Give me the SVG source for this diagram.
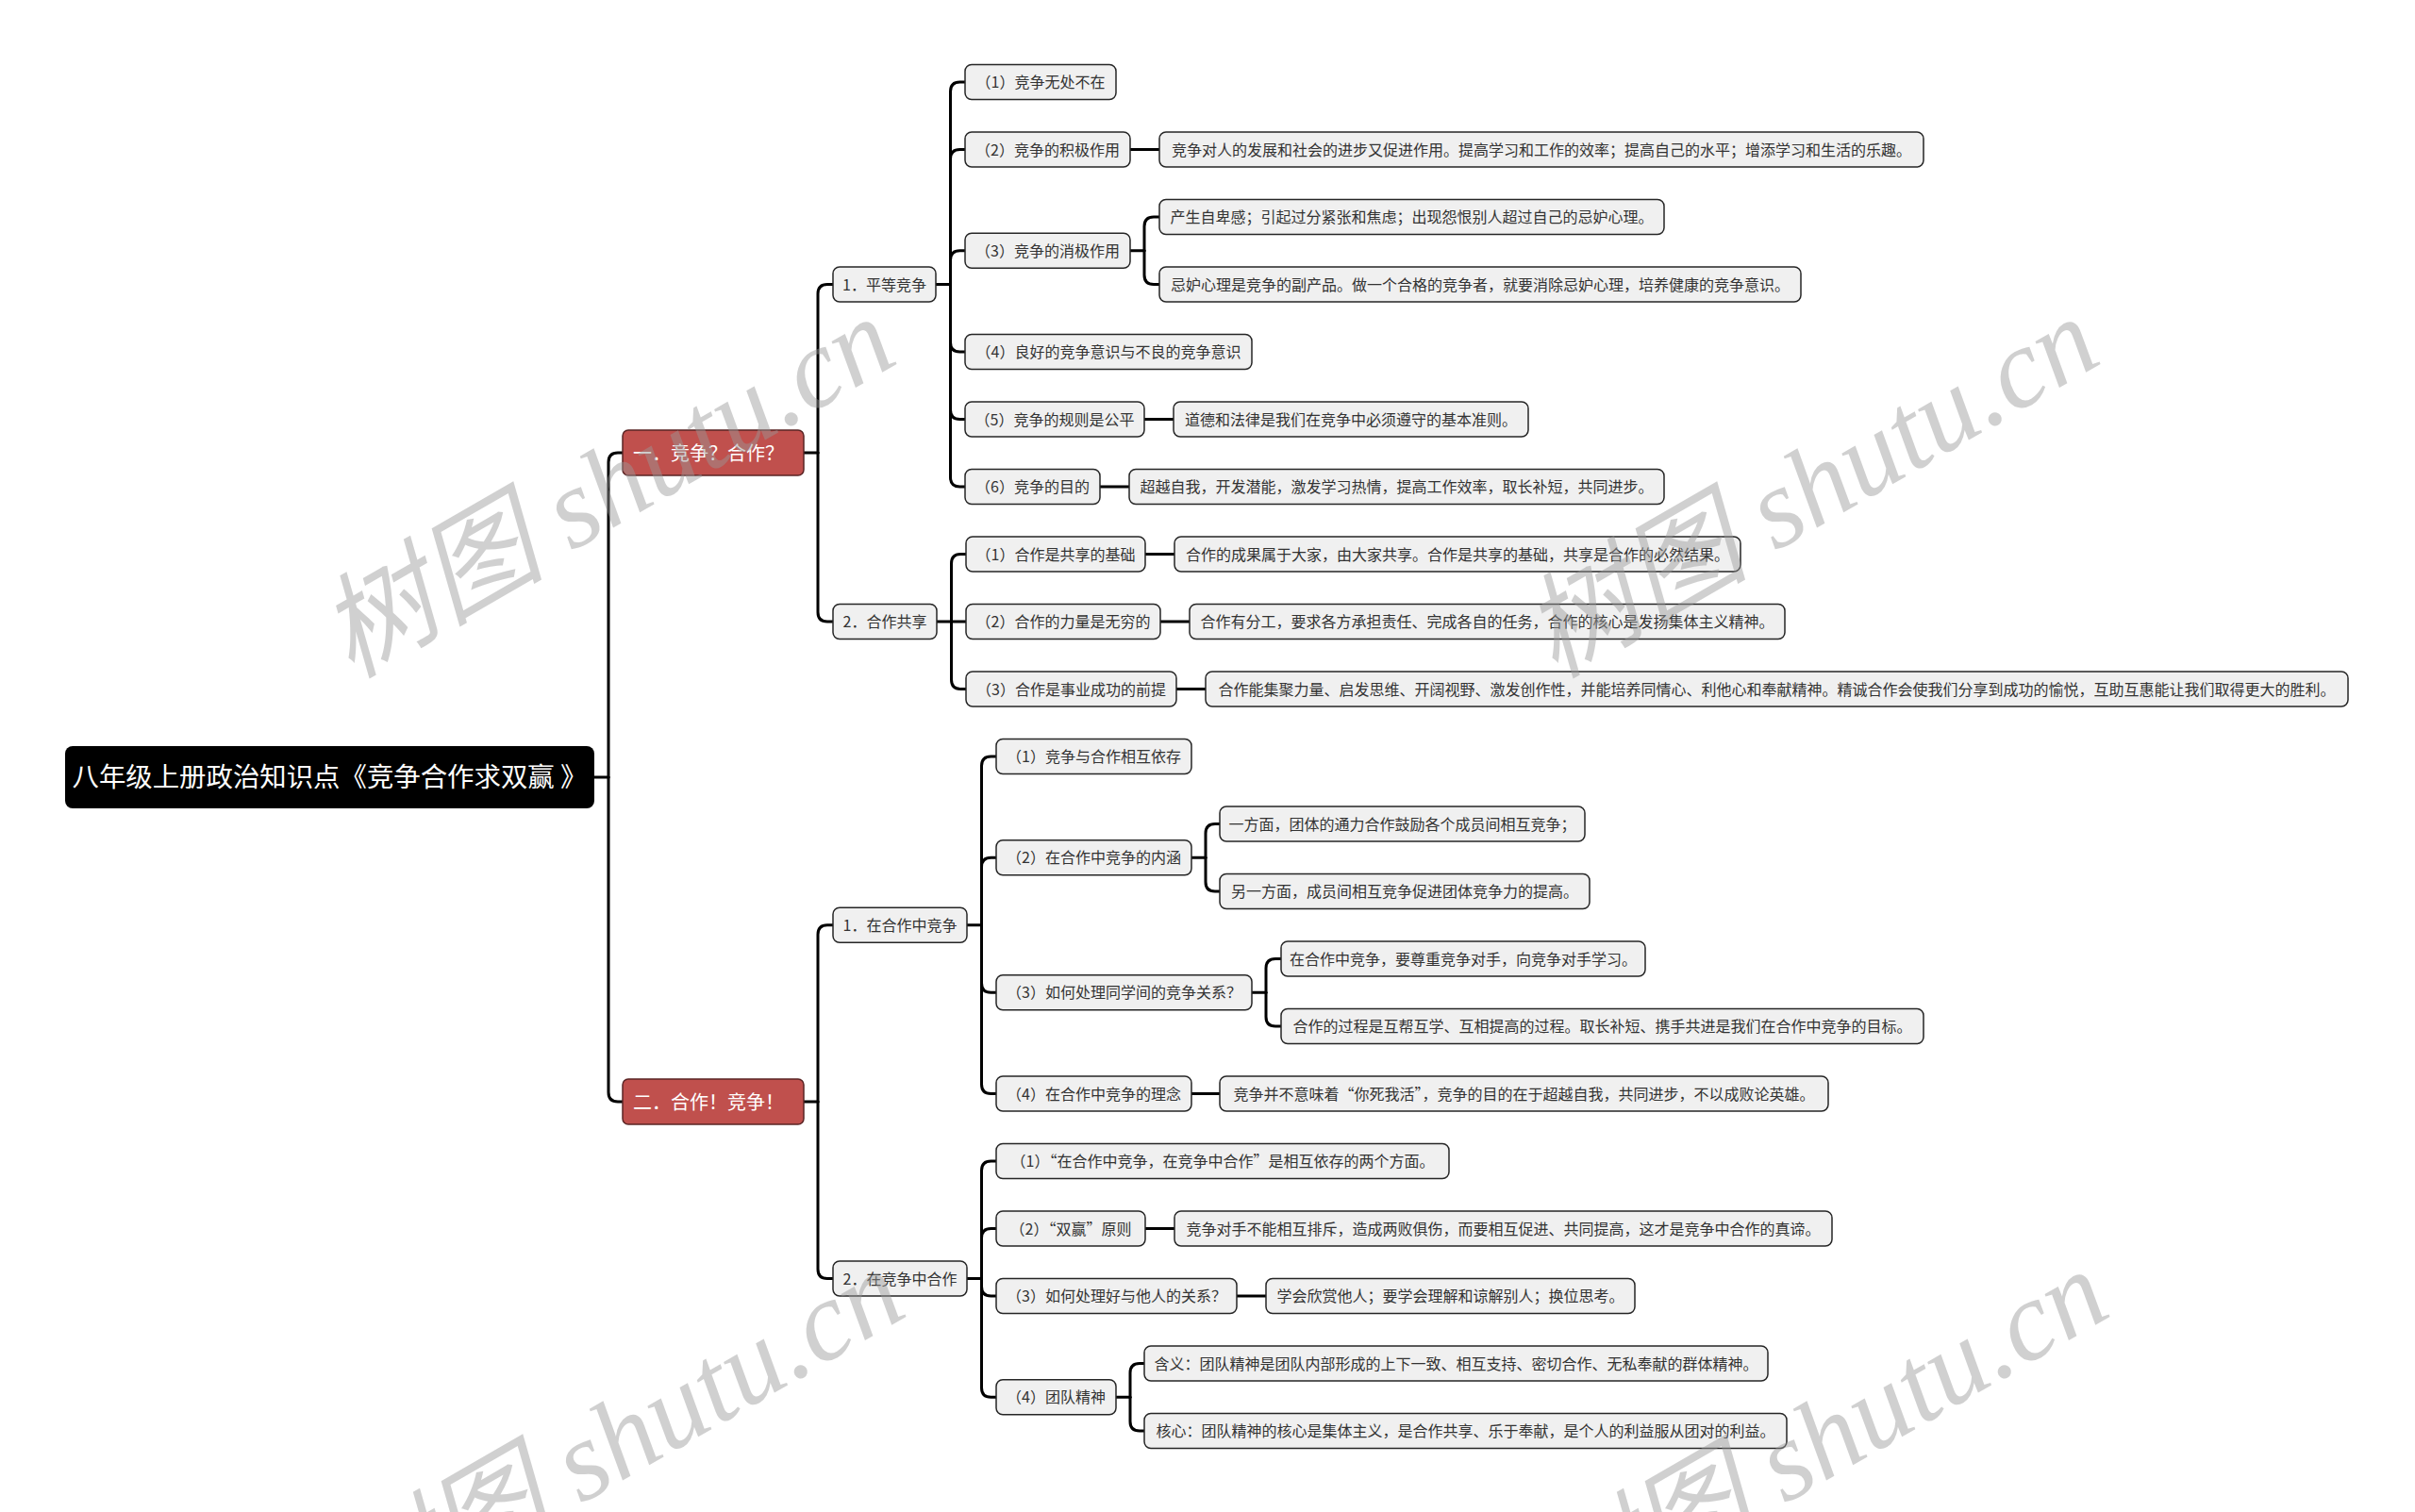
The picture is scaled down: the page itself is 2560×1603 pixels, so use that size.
<svg xmlns="http://www.w3.org/2000/svg" width="2560" height="1603" viewBox="0 0 2560 1603">
<style>
.bg{fill:#ffffff}
.n rect{fill:#f0f0f0;stroke:#262626;stroke-width:1.5}
.n text{font-family:"Noto Sans CJK SC","Noto Sans",sans-serif;font-size:16px;fill:#333333;text-anchor:middle}
.r rect{fill:#c0504d;stroke:#5a2424;stroke-width:1.5}
.r text{font-family:"Noto Sans CJK SC","Noto Sans",sans-serif;font-size:20px;fill:#ffffff}
.root rect{fill:#000000}
.root text{font-family:"Noto Sans CJK SC","Noto Sans",sans-serif;font-size:28px;fill:#ffffff;text-anchor:middle}
#connectors path{fill:none;stroke:#000000;stroke-width:3;stroke-linecap:round;stroke-linejoin:round}
.wm{font-size:120px;fill:#999999;opacity:0.45}
.wmc{font-family:"Noto Sans CJK SC",sans-serif;font-style:italic}
.wml{font-family:"Liberation Serif",serif;font-style:italic}
</style>
<rect class="bg" x="0" y="0" width="2560" height="1603"/>

<g id="connectors">
<path d="M630 824 H645"/>
<path d="M645 824 V490 Q645 480 655 480 H660"/>
<path d="M645 824 V1158 Q645 1168 655 1168 H660"/>
<path d="M852 480 H867"/>
<path d="M867 480 V311.5 Q867 301.5 877 301.5 H883"/>
<path d="M867 480 V649 Q867 659 877 659 H883"/>
<path d="M852 1168 H867"/>
<path d="M867 1168 V990.75 Q867 980.75 877 980.75 H883"/>
<path d="M867 1168 V1345.5 Q867 1355.5 877 1355.5 H883"/>
<path d="M992 301.5 H1007.5"/>
<path d="M1007.5 301.5 V97 Q1007.5 87 1017.5 87 H1023"/>
<path d="M1007.5 301.5 V168.5 Q1007.5 158.5 1017.5 158.5 H1023"/>
<path d="M1007.5 301.5 V275.75 Q1007.5 265.75 1017.5 265.75 H1023"/>
<path d="M1007.5 301.5 V363 Q1007.5 373 1017.5 373 H1023"/>
<path d="M1007.5 301.5 V434.5 Q1007.5 444.5 1017.5 444.5 H1023"/>
<path d="M1007.5 301.5 V506 Q1007.5 516 1017.5 516 H1023"/>
<path d="M993 659 H1024"/>
<path d="M1008.5 659 V597.5 Q1008.5 587.5 1018.5 587.5 H1024"/>
<path d="M1008.5 659 V720.5 Q1008.5 730.5 1018.5 730.5 H1024"/>
<path d="M1025 980.75 H1040.5"/>
<path d="M1040.5 980.75 V812 Q1040.5 802 1050.5 802 H1056"/>
<path d="M1040.5 980.75 V919.25 Q1040.5 909.25 1050.5 909.25 H1056"/>
<path d="M1040.5 980.75 V1042.25 Q1040.5 1052.25 1050.5 1052.25 H1056"/>
<path d="M1040.5 980.75 V1149.5 Q1040.5 1159.5 1050.5 1159.5 H1056"/>
<path d="M1025 1355.5 H1040.5"/>
<path d="M1040.5 1355.5 V1241 Q1040.5 1231 1050.5 1231 H1056"/>
<path d="M1040.5 1355.5 V1312.5 Q1040.5 1302.5 1050.5 1302.5 H1056"/>
<path d="M1040.5 1355.5 V1364 Q1040.5 1374 1050.5 1374 H1056"/>
<path d="M1040.5 1355.5 V1471.25 Q1040.5 1481.25 1050.5 1481.25 H1056"/>
<path d="M1198 158.5 H1229"/>
<path d="M1198 265.75 H1213"/>
<path d="M1213 265.75 V240 Q1213 230 1223 230 H1229"/>
<path d="M1213 265.75 V291.5 Q1213 301.5 1223 301.5 H1229"/>
<path d="M1213 444.5 H1244"/>
<path d="M1166 516 H1197"/>
<path d="M1214 587.5 H1245"/>
<path d="M1230 659 H1261"/>
<path d="M1247 730.5 H1278"/>
<path d="M1263 909.25 H1278"/>
<path d="M1278 909.25 V883.5 Q1278 873.5 1288 873.5 H1293"/>
<path d="M1278 909.25 V935 Q1278 945 1288 945 H1293"/>
<path d="M1327 1052.25 H1342"/>
<path d="M1342 1052.25 V1026.5 Q1342 1016.5 1352 1016.5 H1358"/>
<path d="M1342 1052.25 V1078 Q1342 1088 1352 1088 H1358"/>
<path d="M1263 1159.5 H1293"/>
<path d="M1214 1302.5 H1245"/>
<path d="M1311 1374 H1342"/>
<path d="M1183 1481.25 H1198"/>
<path d="M1198 1481.25 V1455.5 Q1198 1445.5 1208 1445.5 H1213"/>
<path d="M1198 1481.25 V1507 Q1198 1517 1208 1517 H1213"/>
</g>

<g id="root" class="root"><rect x="69" y="791" width="561" height="66" rx="8"/><text x="349.5" y="834" textLength="546" lengthAdjust="spacingAndGlyphs">八年级上册政治知识点《竞争合作求双赢 》</text></g>

<g id="b1" class="r"><rect x="660" y="456" width="192" height="48" rx="6"/><text x="671" y="487.5">一．竞争？合作？</text></g>
<g id="b2" class="r"><rect x="660" y="1144" width="192" height="48" rx="6"/><text x="671" y="1175.5">二．合作！竞争！</text></g>

<g id="a0" class="n"><rect x="883" y="283" width="109" height="37" rx="7"/><text x="937.5" y="307.5">1．平等竞争</text></g>
<g id="b0" class="n"><rect x="883" y="640.5" width="110" height="37" rx="7"/><text x="938" y="665">2．合作共享</text></g>
<g id="c0" class="n"><rect x="883" y="962.25" width="142" height="37" rx="7"/><text x="954" y="986.75">1．在合作中竞争</text></g>
<g id="d0" class="n"><rect x="883" y="1337" width="142" height="37" rx="7"/><text x="954" y="1361.5">2．在竞争中合作</text></g>

<g id="a1" class="n"><rect x="1023" y="68.5" width="160" height="37" rx="7"/><text x="1103" y="93">（1）竞争无处不在</text></g>
<g id="a2" class="n"><rect x="1023" y="140" width="175" height="37" rx="7"/><text x="1110.5" y="164.5">（2）竞争的积极作用</text></g>
<g id="a2l" class="n"><rect x="1229" y="140" width="810" height="37" rx="7"/><text x="1634" y="164.5">竞争对人的发展和社会的进步又促进作用。提高学习和工作的效率；提高自己的水平；增添学习和生活的乐趣。</text></g>
<g id="a3" class="n"><rect x="1023" y="247.25" width="175" height="37" rx="7"/><text x="1110.5" y="271.75">（3）竞争的消极作用</text></g>
<g id="a3a" class="n"><rect x="1229" y="211.5" width="535" height="37" rx="7"/><text x="1496.5" y="236">产生自卑感；引起过分紧张和焦虑；出现怨恨别人超过自己的忌妒心理。</text></g>
<g id="a3b" class="n"><rect x="1229" y="283" width="680" height="37" rx="7"/><text x="1569" y="307.5">忌妒心理是竞争的副产品。做一个合格的竞争者，就要消除忌妒心理，培养健康的竞争意识。</text></g>
<g id="a4" class="n"><rect x="1023" y="354.5" width="304" height="37" rx="7"/><text x="1175" y="379">（4）良好的竞争意识与不良的竞争意识</text></g>
<g id="a5" class="n"><rect x="1023" y="426" width="190" height="37" rx="7"/><text x="1118" y="450.5">（5）竞争的规则是公平</text></g>
<g id="a5l" class="n"><rect x="1244" y="426" width="376" height="37" rx="7"/><text x="1432" y="450.5">道德和法律是我们在竞争中必须遵守的基本准则。</text></g>
<g id="a6" class="n"><rect x="1023" y="497.5" width="143" height="37" rx="7"/><text x="1094.5" y="522">（6）竞争的目的</text></g>
<g id="a6l" class="n"><rect x="1197" y="497.5" width="567" height="37" rx="7"/><text x="1480.5" y="522">超越自我，开发潜能，激发学习热情，提高工作效率，取长补短，共同进步。</text></g>

<g id="b1n" class="n"><rect x="1024" y="569" width="190" height="37" rx="7"/><text x="1119" y="593.5">（1）合作是共享的基础</text></g>
<g id="b1l" class="n"><rect x="1245" y="569" width="600" height="37" rx="7"/><text x="1545" y="593.5">合作的成果属于大家，由大家共享。合作是共享的基础，共享是合作的必然结果。</text></g>
<g id="b2n" class="n"><rect x="1024" y="640.5" width="206" height="37" rx="7"/><text x="1127" y="665">（2）合作的力量是无穷的</text></g>
<g id="b2l" class="n"><rect x="1261" y="640.5" width="631" height="37" rx="7"/><text x="1576.5" y="665">合作有分工，要求各方承担责任、完成各自的任务，合作的核心是发扬集体主义精神。</text></g>
<g id="b3n" class="n"><rect x="1024" y="712" width="223" height="37" rx="7"/><text x="1135.5" y="736.5">（3）合作是事业成功的前提</text></g>
<g id="b3l" class="n"><rect x="1278" y="712" width="1211" height="37" rx="7"/><text x="1883.5" y="736.5">合作能集聚力量、启发思维、开阔视野、激发创作性，并能培养同情心、利他心和奉献精神。精诚合作会使我们分享到成功的愉悦，互助互惠能让我们取得更大的胜利。</text></g>

<g id="c1" class="n"><rect x="1056" y="783.5" width="207" height="37" rx="7"/><text x="1159.5" y="808">（1）竞争与合作相互依存</text></g>
<g id="c2" class="n"><rect x="1056" y="890.75" width="207" height="37" rx="7"/><text x="1159.5" y="915.25">（2）在合作中竞争的内涵</text></g>
<g id="c2a" class="n"><rect x="1293" y="855" width="387" height="37" rx="7"/><text x="1486.5" y="879.5">一方面，团体的通力合作鼓励各个成员间相互竞争；</text></g>
<g id="c2b" class="n"><rect x="1293" y="926.5" width="392" height="37" rx="7"/><text x="1489" y="951">另一方面，成员间相互竞争促进团体竞争力的提高。</text></g>
<g id="c3" class="n"><rect x="1056" y="1033.75" width="271" height="37" rx="7"/><text x="1191.5" y="1058.25">（3）如何处理同学间的竞争关系？</text></g>
<g id="c3a" class="n"><rect x="1358" y="998" width="386" height="37" rx="7"/><text x="1551" y="1022.5">在合作中竞争，要尊重竞争对手，向竞争对手学习。</text></g>
<g id="c3b" class="n"><rect x="1358" y="1069.5" width="681" height="37" rx="7"/><text x="1698.5" y="1094">合作的过程是互帮互学、互相提高的过程。取长补短、携手共进是我们在合作中竞争的目标。</text></g>
<g id="c4" class="n"><rect x="1056" y="1141" width="207" height="37" rx="7"/><text x="1159.5" y="1165.5">（4）在合作中竞争的理念</text></g>
<g id="c4l" class="n"><rect x="1293" y="1141" width="645" height="37" rx="7"/><text x="1615.5" y="1165.5">竞争并不意味着“你死我活”，竞争的目的在于超越自我，共同进步，不以成败论英雄。</text></g>

<g id="d1" class="n"><rect x="1056" y="1212.5" width="480" height="37" rx="7"/><text x="1296" y="1237">（1）“在合作中竞争，在竞争中合作”是相互依存的两个方面。</text></g>
<g id="d2" class="n"><rect x="1056" y="1284" width="158" height="37" rx="7"/><text x="1135" y="1308.5">（2）“双赢”原则</text></g>
<g id="d2l" class="n"><rect x="1245" y="1284" width="697" height="37" rx="7"/><text x="1593.5" y="1308.5">竞争对手不能相互排斥，造成两败俱伤，而要相互促进、共同提高，这才是竞争中合作的真谛。</text></g>
<g id="d3" class="n"><rect x="1056" y="1355.5" width="255" height="37" rx="7"/><text x="1183.5" y="1380">（3）如何处理好与他人的关系？</text></g>
<g id="d3l" class="n"><rect x="1342" y="1355.5" width="391" height="37" rx="7"/><text x="1537.5" y="1380">学会欣赏他人；要学会理解和谅解别人；换位思考。</text></g>
<g id="d4" class="n"><rect x="1056" y="1462.75" width="127" height="37" rx="7"/><text x="1119.5" y="1487.25">（4）团队精神</text></g>
<g id="d4a" class="n"><rect x="1213" y="1427" width="661" height="37" rx="7"/><text x="1543.5" y="1451.5">含义：团队精神是团队内部形成的上下一致、相互支持、密切合作、无私奉献的群体精神。</text></g>
<g id="d4b" class="n"><rect x="1213" y="1498.5" width="681" height="37" rx="7"/><text x="1553.5" y="1523">核心：团队精神的核心是集体主义，是合作共享、乐于奉献，是个人的利益服从团对的利益。</text></g>

<g id="watermarks">
<text class="wm" x="372" y="720" transform="rotate(-30 372 720)"><tspan class="wmc">树图</tspan><tspan class="wml"> shutu.cn</tspan></text>
<text class="wm" x="1648" y="720" transform="rotate(-30 1648 720)"><tspan class="wmc">树图</tspan><tspan class="wml"> shutu.cn</tspan></text>
<text class="wm" x="382" y="1730" transform="rotate(-30 382 1730)"><tspan class="wmc">树图</tspan><tspan class="wml"> shutu.cn</tspan></text>
<text class="wm" x="1658" y="1730" transform="rotate(-30 1658 1730)"><tspan class="wmc">树图</tspan><tspan class="wml"> shutu.cn</tspan></text>
</g>
</svg>
